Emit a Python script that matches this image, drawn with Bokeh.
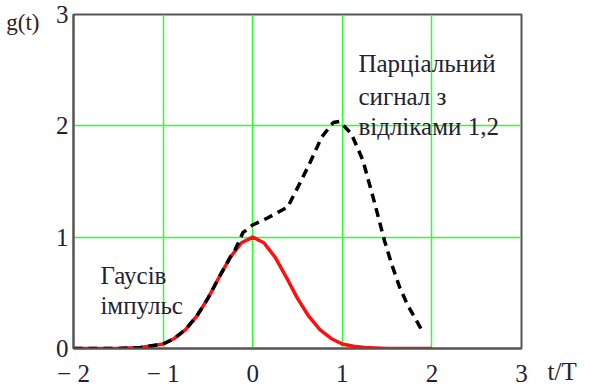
from bokeh.plotting import figure
from bokeh.models import Label, Range1d, FixedTicker, LinearAxis
from bokeh.embed import file_html
from bokeh.resources import INLINE

# Gaussian pulse (red)
t_gauss = [-2.0, -1.75, -1.5, -1.25, -1.0, -0.875, -0.75, -0.625, -0.5, -0.375,
           -0.25, -0.125, 0.0, 0.125, 0.25, 0.375, 0.5, 0.625, 0.75, 0.875,
           1.0, 1.125, 1.25, 1.5, 1.75, 2.0]
g_gauss = [0.0, 0.0, 0.001, 0.01, 0.04, 0.09, 0.17, 0.29, 0.45, 0.64,
           0.82, 0.95, 1.0, 0.95, 0.82, 0.64, 0.45, 0.29, 0.17, 0.09,
           0.04, 0.02, 0.01, 0.0, 0.0, 0.0]

# Partial signal with samples 1,2 (black dashed)
t_part = [-2.0, -1.75, -1.5, -1.25, -1.0, -0.875, -0.75, -0.625, -0.5, -0.375,
          -0.25, -0.2, -0.11, 0.0, 0.16, 0.39, 0.53, 0.64, 0.77, 0.9, 0.97,
          1.1, 1.23, 1.36, 1.47, 1.55, 1.64, 1.73, 1.87, 1.89]
g_part = [0.0, 0.0, 0.001, 0.01, 0.04, 0.09, 0.17, 0.29, 0.45, 0.64,
          0.82, 0.88, 1.04, 1.11, 1.17, 1.27, 1.49, 1.67, 1.90, 2.03, 2.04,
          1.93, 1.69, 1.31, 0.97, 0.76, 0.55, 0.39, 0.19, 0.16]

x_ticks = [-2, -1, 0, 1, 2, 3]
y_ticks = [0, 1, 2, 3]
x_tick_labels = {-2: "\u2212 2", -1: "\u2212 1", 0: "0", 1: "1", 2: "2", 3: "3"}
y_name = "g(t)"
x_name = "t/T"

SERIF = "'Liberation Serif', 'Times New Roman', serif"
TXT = "#222233"

p = figure(width=590, height=389, output_backend="svg", toolbar_location=None,
           x_range=Range1d(-2, 3), y_range=Range1d(0, 3),
           min_border_left=73, min_border_right=69, min_border_top=14,
           min_border_bottom=41)
p.background_fill_color = "white"
p.border_fill_color = "white"
p.outline_line_color = "#555555"
p.outline_line_width = 2

def style_axis(ax, standoff):
    ax.major_tick_line_color = None
    ax.minor_tick_line_color = None
    ax.major_tick_out = 0
    ax.major_tick_in = 0
    ax.minor_tick_out = 0
    ax.minor_tick_in = 0
    ax.major_label_text_font = SERIF
    ax.major_label_text_font_size = "25px"
    ax.major_label_text_color = TXT
    ax.major_label_standoff = standoff

style_axis(p.xaxis[0], 11)
style_axis(p.yaxis[0], 5)
for ax in (p.xaxis[0], p.yaxis[0]):
    ax.axis_line_color = "#555555"
    ax.axis_line_width = 2
p.xaxis.ticker = FixedTicker(ticks=x_ticks)
p.yaxis.ticker = FixedTicker(ticks=y_ticks)
p.xaxis.major_label_overrides = x_tick_labels

# extra axis carrying the "g(t)" name at the top left
gax = LinearAxis(ticker=FixedTicker(ticks=[2.93]), major_label_overrides={2.93: y_name},
                 axis_line_color=None)
style_axis(gax, 13)
gax.major_label_text_font_size = "23px"
gax.major_label_text_color = "#2a2220"
p.add_layout(gax, "left")

# extra axis on the right carrying the "t/T" name beside the x tick labels
tax = LinearAxis(ticker=FixedTicker(ticks=[0]),
                 major_label_overrides={0: "\n\n" + x_name}, axis_line_color=None)
style_axis(tax, 26)
tax.major_label_text_font_size = "25px"
tax.major_label_text_color = "#2a2220"
p.add_layout(tax, "right")

p.grid.grid_line_color = "#2cff2c"
p.grid.grid_line_width = 1.5
p.xgrid.ticker = FixedTicker(ticks=x_ticks)
p.ygrid.ticker = FixedTicker(ticks=y_ticks)

p.line(t_gauss, g_gauss, line_color="#ff1010", line_width=3.5)
p.line(t_part, g_part, line_color="black", line_width=3.5, line_dash="9 6")

def lab(x, y, text, size="25px", color=TXT):
    p.add_layout(Label(x=x, y=y, text=text, text_font=SERIF, text_font_size=size,
                       text_color=color, text_baseline="alphabetic", text_align="left"))

lab(1.18, 2.56, "Парціальний")
lab(1.18, 2.26, "сигнал з")
lab(1.18, 1.99, "відліками 1,2")
lab(-1.70, 0.656, "Гаусів")
lab(-1.70, 0.386, "імпульс")

open("out.html", "w").write(file_html(p, INLINE))
